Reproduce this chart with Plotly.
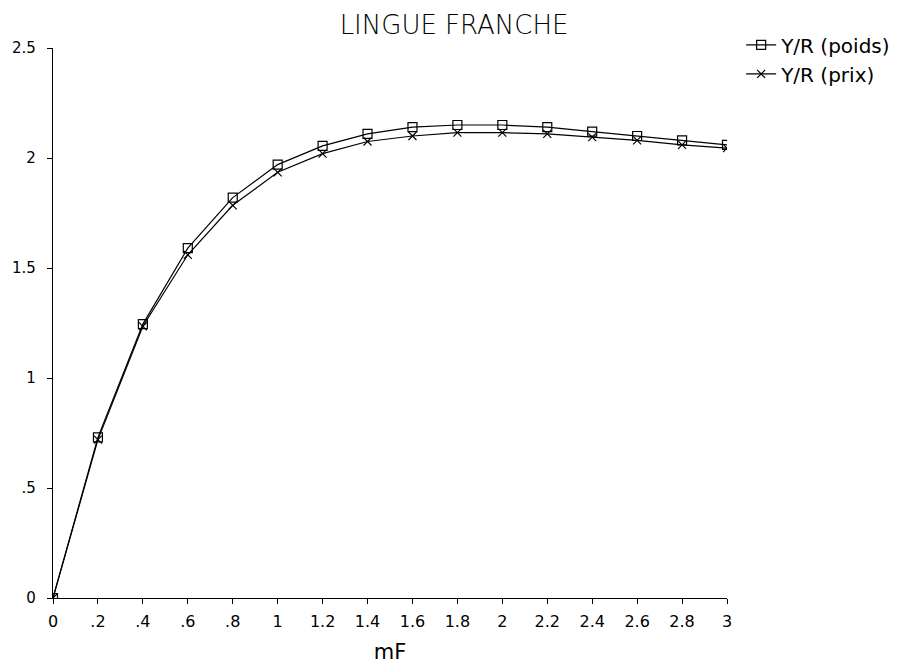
import plotly.graph_objects as go

mF = [0, 0.2, 0.4, 0.6, 0.8, 1.0, 1.2, 1.4, 1.6, 1.8, 2.0, 2.2, 2.4, 2.6, 2.8, 3.0]
yr_poids = [0, 0.73, 1.245, 1.59, 1.82, 1.97, 2.055, 2.11, 2.14, 2.15, 2.15, 2.14, 2.12, 2.10, 2.08, 2.06]
yr_prix = [0, 0.72, 1.235, 1.56, 1.785, 1.935, 2.02, 2.075, 2.10, 2.115, 2.115, 2.11, 2.095, 2.08, 2.06, 2.045]

x_ticks = [0, 0.2, 0.4, 0.6, 0.8, 1, 1.2, 1.4, 1.6, 1.8, 2, 2.2, 2.4, 2.6, 2.8, 3]
x_labels = ["0", ".2", ".4", ".6", ".8", "1", "1.2", "1.4", "1.6", "1.8", "2", "2.2", "2.4", "2.6", "2.8", "3"]
y_ticks = [0, 0.5, 1, 1.5, 2, 2.5]
y_labels = ["0", ".5", "1", "1.5", "2", "2.5"]

font = "DejaVu Sans, Liberation Sans, sans-serif"

fig = go.Figure()
fig.add_trace(go.Scatter(
    x=mF, y=yr_poids, name="Y/R (poids)", mode="lines+markers", legendgroup="a",
    line=dict(color="black", width=1.2),
    marker=dict(symbol="square-open", size=9, color="black", line=dict(width=1.2)),
))
fig.add_trace(go.Scatter(
    x=mF, y=yr_prix, name="Y/R (prix)", mode="lines+markers", legendgroup="b",
    line=dict(color="black", width=1.2),
    marker=dict(symbol="x-thin-open", size=8, color="black", line=dict(width=1.2, color="black")),
))

fig.update_layout(
    width=914, height=669,
    paper_bgcolor="white", plot_bgcolor="white",
    margin=dict(l=45, r=195, t=40, b=79),
    font=dict(family=font, size=16, color="black"),
    title=dict(text="LINGUE FRANCHE", x=0.488, xanchor="center", y=0.975, yanchor="middle",
               font=dict(family=font, size=26, color="black", weight=300)),
    showlegend=True,
    legend=dict(x=1.021, y=1.041, xanchor="left", yanchor="top", bgcolor="rgba(0,0,0,0)",
                font=dict(family=font, size=20), tracegroupgap=0, itemwidth=30),
    xaxis=dict(range=[0, 3], tickmode="array", tickvals=x_ticks, ticktext=x_labels,
               showline=True, linecolor="black", linewidth=1.2, ticks="outside", ticklen=5,
               tickcolor="black", showgrid=False, zeroline=False, ticklabelstandoff=4,
               automargin=False,
               title=dict(text="mF", font=dict(size=21), standoff=14)),
    yaxis=dict(range=[0, 2.5], tickmode="array", tickvals=y_ticks, ticktext=y_labels,
               showline=True, linecolor="black", linewidth=1.2, ticks="outside", ticklen=5,
               tickcolor="black", showgrid=False, zeroline=False, ticklabelstandoff=8,
               tickfont=dict(size=15), automargin=False),
)

fig.write_html("out.html")
